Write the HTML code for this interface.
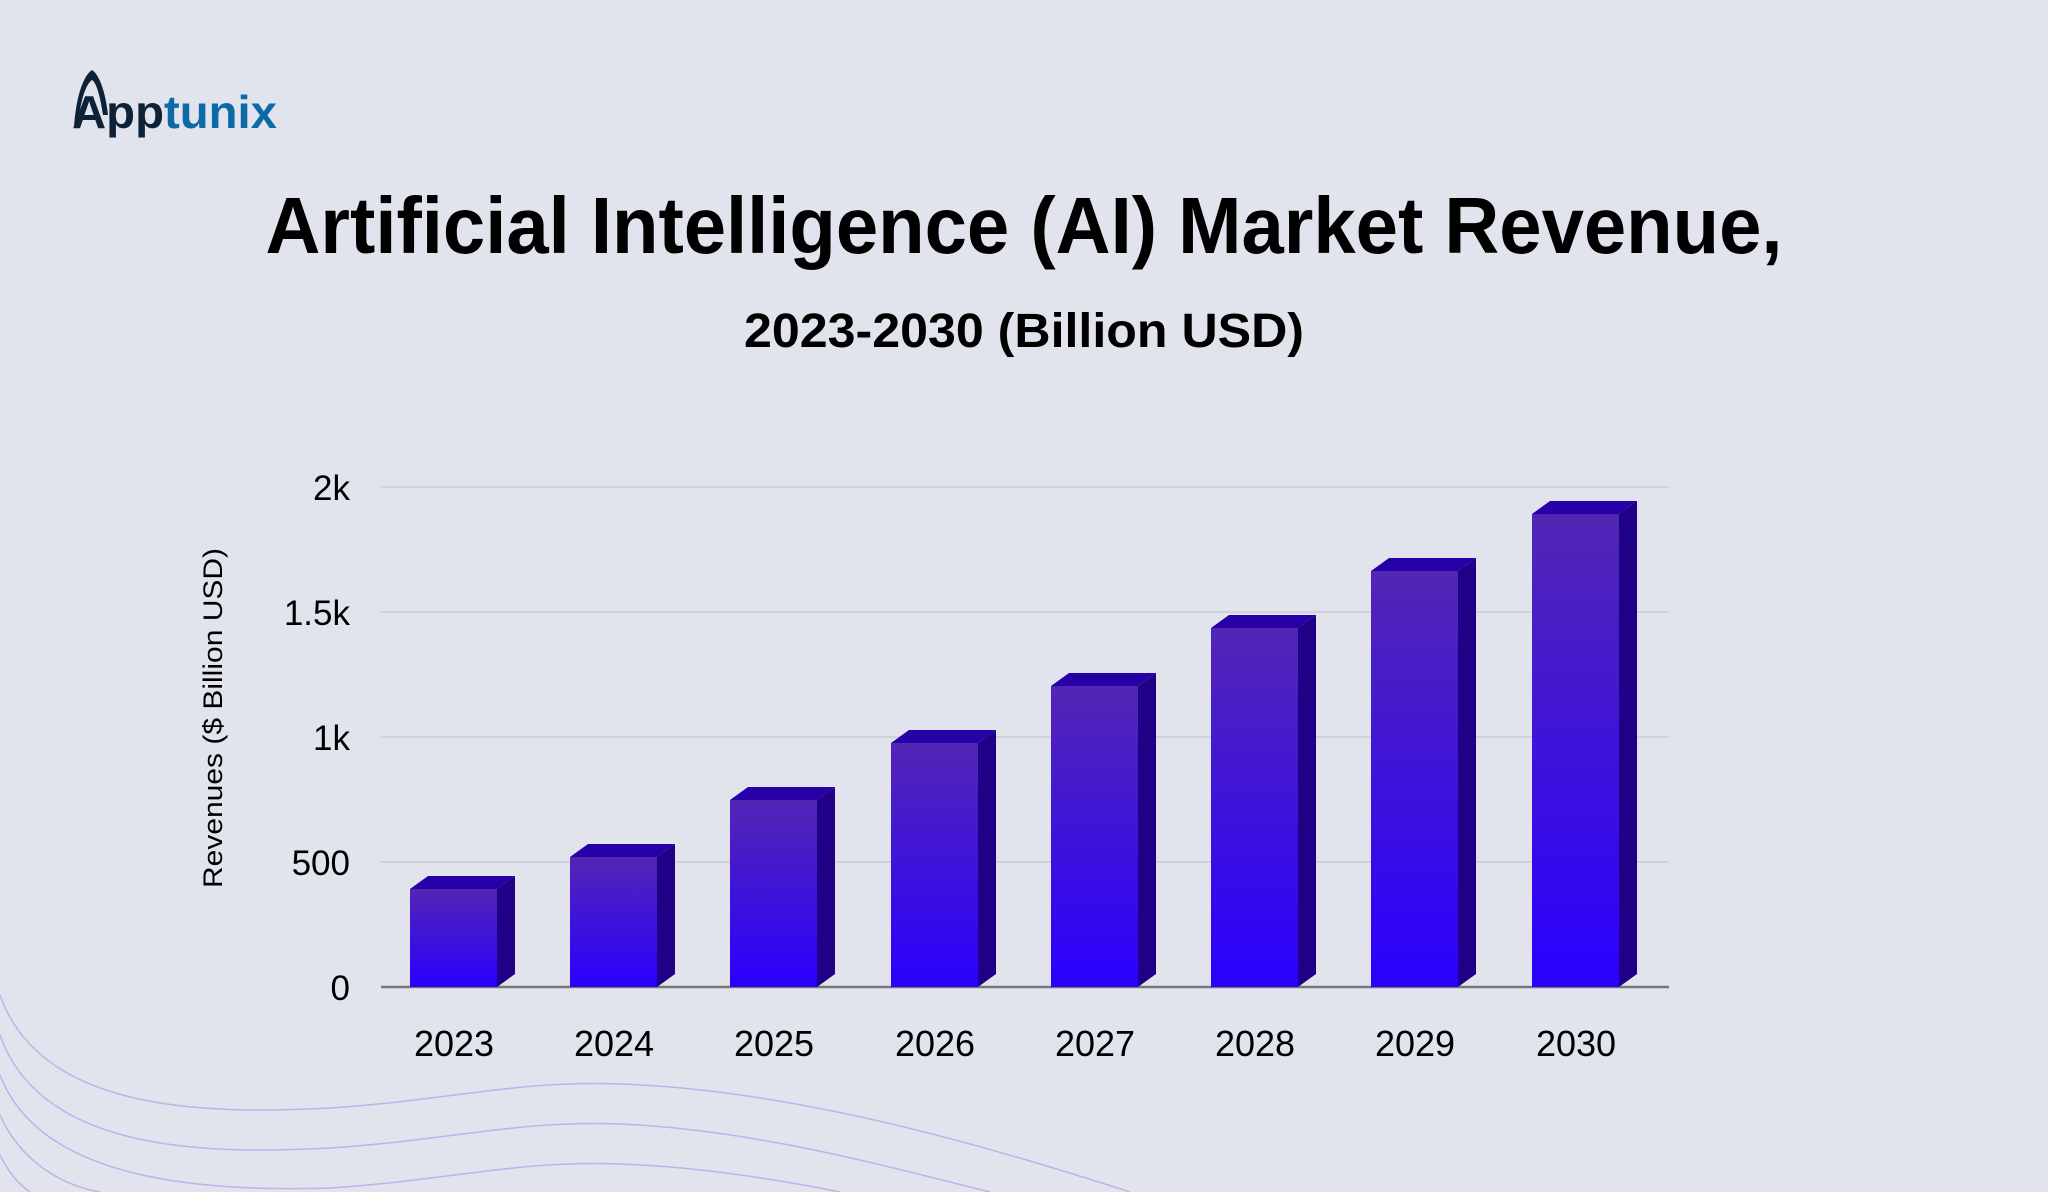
<!DOCTYPE html>
<html><head><meta charset="utf-8"><style>
html,body{margin:0;padding:0;background:#e1e4ed;}
svg{display:block;}
text{font-family:"Liberation Sans",sans-serif;}
</style></head><body>
<svg width="2048" height="1192" viewBox="0 0 2048 1192" xmlns="http://www.w3.org/2000/svg">
<defs>
<linearGradient id="g" x1="0" y1="0" x2="0" y2="1">
<stop offset="0" stop-color="#5226b4"/>
<stop offset="1" stop-color="#2a00ff"/>
</linearGradient>
</defs>
<rect width="2048" height="1192" fill="#e1e4ed"/>
<g fill="none" stroke="#b9b5ea" stroke-width="1.5">
<path d="M0,995 C40,1110 200,1115 330,1108 C450,1100 520,1080 620,1084 C800,1090 1000,1150 1130,1192"/>
<path d="M0,1035 C40,1150 200,1155 330,1148 C450,1140 520,1120 620,1124 C760,1130 900,1170 990,1192"/>
<path d="M0,1075 C40,1180 200,1192 330,1188 C450,1180 520,1160 620,1164 C700,1167 780,1180 840,1192"/>
<path d="M0,1115 C20,1160 60,1185 100,1192"/>
<path d="M0,1155 C10,1175 20,1185 30,1192"/>
</g>
<!-- logo -->
<path d="M74,128 C76,95 84,75 92,70 C100,75 106,95 108,115 L103,115 C100,95 96,82 92,80 C86,84 80,100 78,128 Z" fill="#0d2236"/>
<text x="72" y="128" font-size="46" font-weight="bold" fill="#0d2236" textLength="205" lengthAdjust="spacingAndGlyphs">App<tspan fill="#0d6aa6">tunix</tspan></text>
<!-- titles -->
<text x="1024" y="253" text-anchor="middle" font-size="80" font-weight="bold" fill="#000" textLength="1517" lengthAdjust="spacingAndGlyphs">Artificial Intelligence (AI) Market Revenue,</text>
<text x="1024" y="347" text-anchor="middle" font-size="48" font-weight="bold" fill="#000" textLength="560" lengthAdjust="spacingAndGlyphs">2023-2030 (Billion USD)</text>
<!-- grid -->
<g stroke="#c9ccd8" stroke-width="1.5">
<line x1="381" y1="487" x2="1669" y2="487"/>
<line x1="381" y1="612" x2="1669" y2="612"/>
<line x1="381" y1="737" x2="1669" y2="737"/>
<line x1="381" y1="862" x2="1669" y2="862"/>
</g>
<g font-size="35" fill="#000" text-anchor="end">
<text x="350" y="500">2k</text>
<text x="350" y="625">1.5k</text>
<text x="350" y="750">1k</text>
<text x="350" y="875">500</text>
<text x="350" y="1000">0</text>
</g>
<text transform="translate(222,718) rotate(-90)" text-anchor="middle" font-size="27" fill="#000" textLength="340" lengthAdjust="spacingAndGlyphs">Revenues ($ Billion USD)</text>
<!-- bars -->
<g id="bars"></g>
<line x1="381" y1="987" x2="1669" y2="987" stroke="#777" stroke-width="2.5"/>
<g font-size="36" fill="#000" text-anchor="middle">
<text x="454" y="1056">2023</text>
<text x="614" y="1056">2024</text>
<text x="774" y="1056">2025</text>
<text x="935" y="1056">2026</text>
<text x="1095" y="1056">2027</text>
<text x="1255" y="1056">2028</text>
<text x="1415" y="1056">2029</text>
<text x="1576" y="1056">2030</text>
</g>
<g>
<!-- generated bars -->
<polygon points="410,889 428,876 515,876 497,889" fill="#2800a8"/><polygon points="497,889 515,876 515,974 497,987" fill="#1f0086"/><rect x="410" y="889" width="87" height="98" fill="url(#g)"/>
<polygon points="570,857 588,844 675,844 657,857" fill="#2800a8"/><polygon points="657,857 675,844 675,974 657,987" fill="#1f0086"/><rect x="570" y="857" width="87" height="130" fill="url(#g)"/>
<polygon points="730,800 748,787 835,787 817,800" fill="#2800a8"/><polygon points="817,800 835,787 835,974 817,987" fill="#1f0086"/><rect x="730" y="800" width="87" height="187" fill="url(#g)"/>
<polygon points="891,743 909,730 996,730 978,743" fill="#2800a8"/><polygon points="978,743 996,730 996,974 978,987" fill="#1f0086"/><rect x="891" y="743" width="87" height="244" fill="url(#g)"/>
<polygon points="1051,686 1069,673 1156,673 1138,686" fill="#2800a8"/><polygon points="1138,686 1156,673 1156,974 1138,987" fill="#1f0086"/><rect x="1051" y="686" width="87" height="301" fill="url(#g)"/>
<polygon points="1211,628 1229,615 1316,615 1298,628" fill="#2800a8"/><polygon points="1298,628 1316,615 1316,974 1298,987" fill="#1f0086"/><rect x="1211" y="628" width="87" height="359" fill="url(#g)"/>
<polygon points="1371,571 1389,558 1476,558 1458,571" fill="#2800a8"/><polygon points="1458,571 1476,558 1476,974 1458,987" fill="#1f0086"/><rect x="1371" y="571" width="87" height="416" fill="url(#g)"/>
<polygon points="1532,514 1550,501 1637,501 1619,514" fill="#2800a8"/><polygon points="1619,514 1637,501 1637,974 1619,987" fill="#1f0086"/><rect x="1532" y="514" width="87" height="473" fill="url(#g)"/>
</g>
</svg>
</body></html>
